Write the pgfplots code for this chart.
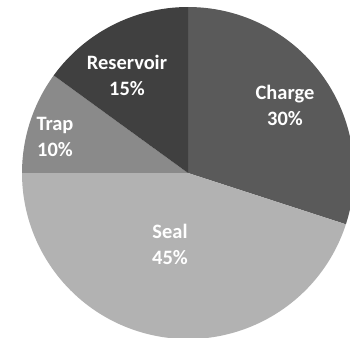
\documentclass[border=0pt]{standalone}
\usepackage{pgfplots}
\usepackage{pgfplotstable}
\usepackage{fontspec}
\setmainfont{Carlito}
\pgfplotsset{compat=1.18}
\definecolor{c0}{RGB}{90,90,90}
\definecolor{c1}{RGB}{178,178,178}
\definecolor{c2}{RGB}{138,138,138}
\definecolor{c3}{RGB}{64,64,64}
\pgfplotstableread{
label pct lx ly
Charge 30 285 233
Seal 45 170 94
Trap 10 55 201
Reservoir 15 127 263
}\piedata
\begin{document}
\begin{tikzpicture}
\begin{axis}[
  x=1bp, y=1bp,
  xmin=0, xmax=350, ymin=0, ymax=338,
  hide axis, clip=true,
  axis background/.style={fill=white},
]
\def\startangle{90}
\pgfplotsforeachungrouped \i in {0,...,3} {
  \pgfplotstablegetelem{\i}{pct}\of\piedata \let\val\pgfplotsretval
  \pgfmathsetmacro\endangle{\startangle - 3.6*\val}
  \edef\temp{\noexpand\fill[fill=c\i] (axis cs:188,165) -- ++(\startangle:166bp) arc[start angle=\startangle, end angle=\endangle, radius=166bp] -- cycle;}
  \temp
  \global\let\startangle\endangle
}
\pgfplotsforeachungrouped \i in {0,...,3} {
  \pgfplotstablegetelem{\i}{pct}\of\piedata \let\val\pgfplotsretval
  \pgfplotstablegetelem{\i}{label}\of\piedata \let\lab\pgfplotsretval
  \pgfplotstablegetelem{\i}{lx}\of\piedata \let\lx\pgfplotsretval
  \pgfplotstablegetelem{\i}{ly}\of\piedata \let\ly\pgfplotsretval
  \edef\temp{\noexpand\node[text=white, align=center, font=\noexpand\fontsize{20.5}{26}\noexpand\selectfont\noexpand\bfseries] at (axis cs:\lx,\ly) {\lab\noexpand\\\val\noexpand\%};}
  \temp
}
\end{axis}
\end{tikzpicture}
\end{document}
